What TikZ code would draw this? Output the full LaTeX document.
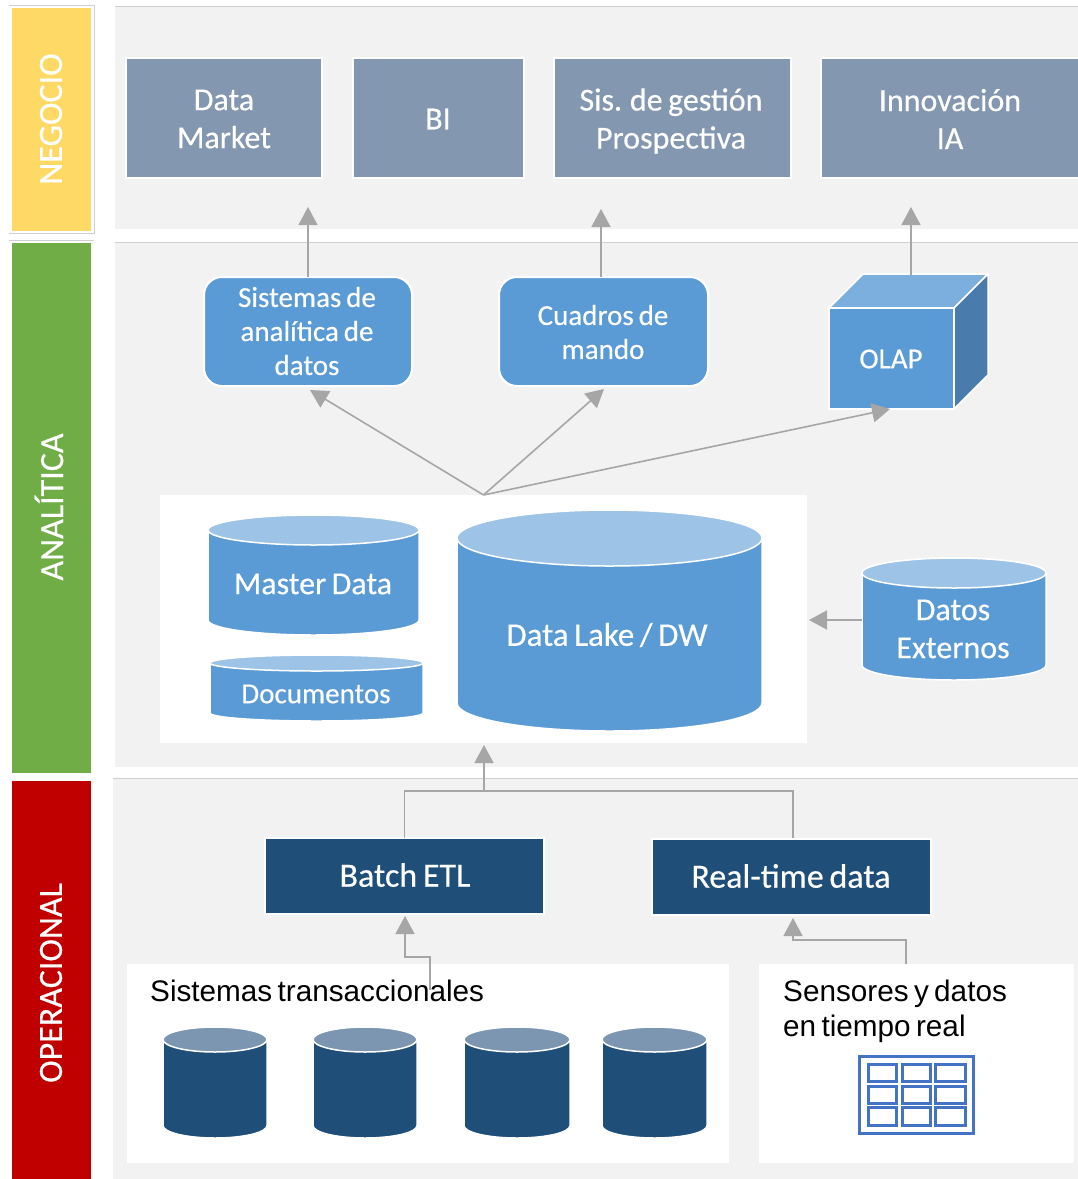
\documentclass[tikz,border=0pt]{standalone}
\usepackage{fontspec}
\setmainfont[WordSpace=0.75,FakeBold=0.4]{Carlito}
\newfontfamily\arialf[WordSpace=0.65]{Liberation Sans}
\usetikzlibrary{arrows.meta}
\definecolor{panelgray}{HTML}{F2F2F2}
\definecolor{panelline}{HTML}{CFCFCF}
\definecolor{arrowgray}{HTML}{A6A6A6}
\definecolor{slatebox}{HTML}{8497B0}
\definecolor{bluebox}{HTML}{5B9BD5}
\definecolor{bluetop}{HTML}{9DC3E6}
\definecolor{cubetop}{HTML}{7CAFDE}
\definecolor{cubeside}{HTML}{497CAD}
\definecolor{navy}{HTML}{1F4E79}
\definecolor{navytop}{HTML}{7C96B2}
\definecolor{iconblue}{HTML}{4472C4}
\definecolor{barY}{HTML}{FFD966}
\definecolor{barG}{HTML}{70AD47}
\definecolor{barR}{HTML}{C00000}
\tikzset{
  areaitem/.style={inner sep=0pt,outer sep=0pt},
  panelbox/.style={areaitem,fill=panelgray},
  whitebox/.style={areaitem,fill=white},
  slateitem/.style={areaitem,fill=slatebox,draw=white,line width=2pt},
  rounditem/.style={areaitem,fill=bluebox,draw=white,line width=2pt,rounded corners=18pt},
  navyitem/.style={areaitem,fill=navy,draw=white,line width=2pt},
  labeltext/.style={text=white,align=center,font=\fontsize{32}{38}\selectfont},
  largetext/.style={text=white,align=center,font=\fontsize{34}{38}\selectfont},
  smalltext/.style={text=white,align=center,font=\fontsize{29}{34}\selectfont},
  bartext/.style={text=white,font=\fontsize{34}{36}\selectfont,rotate=90,inner sep=0pt},
  blacktext/.style={text=black,align=left,anchor=north west,inner sep=0pt,
    font=\arialf\fontsize{29.7}{35}\selectfont},
  link/.style={draw=arrowgray,line width=1.6pt},
  linkarrow/.style={link,-{Triangle[width=19pt,length=18pt,fill=arrowgray]}},
  iconcell/.style={draw=iconblue,line width=3pt}
}
\newcommand\bx[6]{\node[#6,minimum width={#4-#2},minimum height={#5-#3}] (#1) at ({(#2+#4)/2},{(#3+#5)/2}) {};}
\newcommand\cyl[8]{%
  \pgfmathsetmacro\cx{(#2+#4)/2}\pgfmathsetmacro\rx{(#4-#2)/2}%
  \pgfmathsetmacro\kx{.5523*\rx}\pgfmathsetmacro\ky{.5523*#6}%
  \pgfmathsetmacro\ta{#3+#6}\pgfmathsetmacro\ba{#5-#6}%
  \path[draw=white,fill=#7,line width=1.5pt] (#2,\ta) -- (#2,\ba)
    .. controls (#2,{\ba+\ky}) and ({\cx-\kx},#5) .. (\cx,#5)
    .. controls ({\cx+\kx},#5) and (#4,{\ba+\ky}) .. (#4,\ba) -- (#4,\ta)
    .. controls (#4,{\ta-\ky}) and ({\cx+\kx},#3) .. (\cx,#3)
    .. controls ({\cx-\kx},#3) and (#2,{\ta-\ky}) .. cycle;
  \path[draw=white,fill=#8,line width=1.5pt] (\cx,\ta) ellipse [x radius=\rx pt,y radius=#6 pt];
  \node[areaitem,minimum width={#4-#2},minimum height={#5-#3}] (#1) at (\cx,{(#3+#5)/2}) {};
}
\begin{document}
\begin{tikzpicture}[x=1pt,y=-1pt]
\useasboundingbox[fill=white] (0,0) rectangle (1078,1179);
% side bars
\draw[panelline,line width=.8pt] (9,5) -- (94,5) -- (94,233) -- (9,233);
\draw[panelline,line width=.8pt] (9,240) -- (94,240);
\bx{barNeg}{12}{8}{91}{231}{areaitem,fill=barY}
\bx{barAna}{12}{243}{91}{773}{areaitem,fill=barG}
\bx{barOpe}{12}{781}{91}{1179}{areaitem,fill=barR}
\node[bartext] (tNeg) at (51,119) {NEGOCIO};
\node[bartext] (tAna) at (49,507) {ANALÍTICA};
\node[bartext] (tOpe) at (51,983) {OPERACIONAL};
% panels
\bx{pNeg}{115}{6}{1078}{229}{panelbox}
\bx{pAna}{115}{242}{1078}{767}{panelbox}
\bx{pOpe}{113}{778}{1078}{1179}{panelbox}
\draw[panelline,line width=.8pt] (pNeg.north west) -- (pNeg.north east);
\draw[panelline,line width=.8pt] (pAna.north west) -- (pAna.north east);
\draw[panelline,line width=.8pt] (pOpe.north west) -- (pOpe.north east);
% white containers
\bx{lake}{160}{495}{807}{743}{whitebox}
\bx{trans}{127}{964}{729}{1163}{whitebox}
\bx{sens}{759}{964}{1074}{1163}{whitebox}
% business boxes
\bx{dm}{126}{58}{322}{178}{slateitem}
\node[labeltext] (dmT) at (224,119) {Data\\Market};
\bx{bi}{353}{58}{524}{178}{slateitem}
\node[labeltext] (biT) at (438,119) {BI};
\bx{sg}{554}{58}{791}{178}{slateitem}
\node[labeltext] (sgT) at (671,121) {Sis. de gestión\\Prospectiva};
\bx{ino}{821}{58}{1079}{178}{slateitem}
\node[labeltext] (inoT) at (950,119) {Innovación\\IA};
% analytics
\bx{sis}{204}{277}{412}{386}{rounditem}
\node[smalltext] (sisT) at (307,331) {Sistemas de\\analítica de\\datos};
\bx{cua}{499}{277}{708}{386}{rounditem}
\node[smalltext] (cuaT) at (603,332) {Cuadros de\\mando};
% cube
\path[fill=cubetop,draw=white,line width=1.5pt] (829,308) -- (863,274) -- (988,274) -- (954,308) -- cycle;
\path[fill=cubeside,draw=white,line width=1.5pt] (954,308) -- (988,274) -- (988,375) -- (954,409) -- cycle;
\bx{olap}{829}{308}{954}{409}{areaitem,fill=bluebox,draw=white,line width=1.5pt}
\node[smalltext] (olapT) at (891,359) {OLAP};
\coordinate (olapTop) at (911,275);
% connectors
\coordinate (neg1) at (308,207);
\coordinate (neg2) at (601,209);
\coordinate (neg3) at (911,207);
\draw[linkarrow] (sis.north -| neg1) -- (neg1);
\draw[linkarrow] (cua.north -| neg2) -- (neg2);
\draw[linkarrow] (olapTop) -- (neg3);
\coordinate (t1) at (310,390);
\coordinate (t2) at (604,389);
\coordinate (t3) at (890,409);
\draw[linkarrow] (lake.north) -- (t1);
\draw[linkarrow] (lake.north) -- (t2);
\draw[linkarrow] (lake.north) -- (t3);
\coordinate (extIn) at (809,620);
\coordinate (lakeIn) at (484,745);
\coordinate (bus) at (484,791);
% cylinders
\cyl{md}{208}{515}{419}{635}{15}{bluebox}{bluetop}
\node[labeltext] (mdT) at (313,584) {Master Data};
\cyl{doc}{210}{655}{423}{721}{8}{bluebox}{bluetop}
\node[smalltext] (docT) at (316,694) {Documentos};
\cyl{dl}{457}{510}{762}{731}{28}{bluebox}{bluetop}
\node[labeltext,font=\fontsize{33}{38}\selectfont] (dlT) at (607,635) {Data Lake / DW};
\cyl{ext}{862}{558}{1046}{680}{15}{bluebox}{bluetop}
\node[labeltext] (extT) at (953,629) {Datos\\Externos};
\draw[linkarrow] (ext.west |- extIn) -- (extIn);
% operational
\bx{etl}{265}{838}{544}{914}{navyitem}
\node[largetext] (etlT) at (405,875) {Batch ETL};
\bx{rt}{652}{839}{931}{915}{navyitem}
\node[largetext] (rtT) at (791,876) {Real-time data};
\coordinate (rtTop) at (793,838);
\draw[link] (etl.north) -- (etl.north |- bus) -- (bus) -| (rtTop);
\draw[linkarrow] (bus) -- (lakeIn);
\coordinate (stOut) at (430,990);
\coordinate (stTurn) at (430,957);
\coordinate (stIn) at (405,916);
\draw[linkarrow] (stOut) -- (stTurn) -| (stIn);
\coordinate (seTurn) at (906,940);
\coordinate (seIn) at (793,918);
\draw[linkarrow] (sens.north -| seTurn) -- (seTurn) -| (seIn);
\node[blacktext] (stT) at (150,980) {Sistemas transaccionales};
\node[blacktext] (seT) at (783,980) {Sensores y datos\\en tiempo real};
\cyl{c1}{163}{1027}{267}{1138}{12.5}{navy}{navytop}
\cyl{c2}{313}{1027}{417}{1138}{12.5}{navy}{navytop}
\cyl{c3}{464}{1027}{570}{1138}{12.5}{navy}{navytop}
\cyl{c4}{602}{1027}{707}{1138}{12.5}{navy}{navytop}
% table icon
\draw[iconcell] (859,1056) rectangle (973,1133);
\foreach \xa/\xb in {868/896,902/930,935/965}
  \foreach \ya/\yb in {1064/1081,1086/1103,1107/1125}
    \draw[iconcell] (\xa,\ya) rectangle (\xb,\yb);
\end{tikzpicture}
\end{document}
